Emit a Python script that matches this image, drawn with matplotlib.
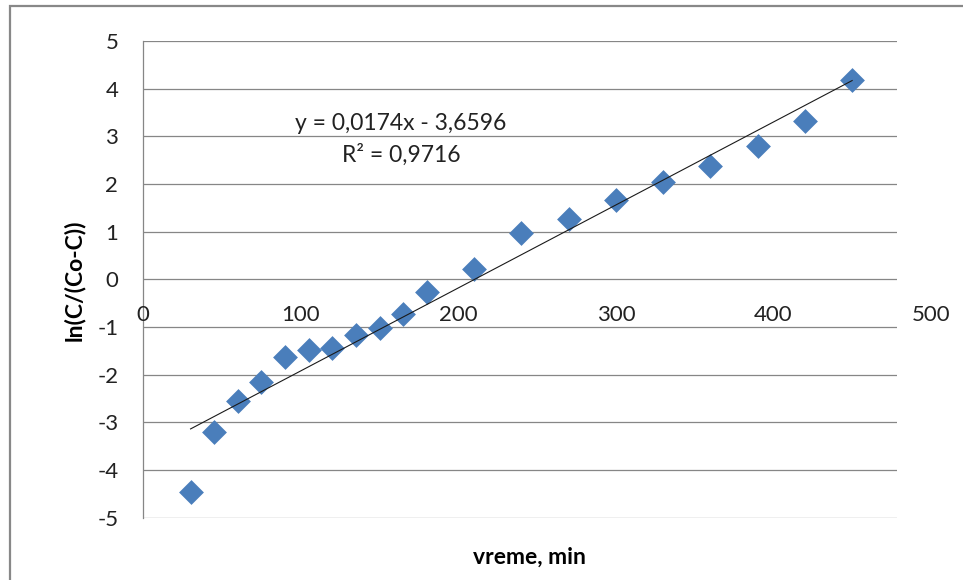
#! /usr/bin/env python3

import numpy as np
import matplotlib.pyplot as plt
from matplotlib.patches import Rectangle


# Time (min) and ln(C/(Co-C)) values.
vreme = [30, 45, 60, 75, 90, 105, 120, 135, 150, 165, 180,
         210, 240, 270, 300, 330, 360, 390, 420, 450]
ln_c = [-4.46, -3.20, -2.55, -2.15, -1.62, -1.48, -1.43, -1.17, -1.01, -0.73,
        -0.26, 0.22, 0.98, 1.26, 1.66, 2.05, 2.38, 2.80, 3.32, 4.18]

# Linear trendline shown on the chart.
slope = 0.0174
intercept = -3.6596
r2 = 0.9716

x_ticks = [0, 100, 200, 300, 400, 500]
y_ticks = [-5, -4, -3, -2, -1, 0, 1, 2, 3, 4, 5]

plt.rcParams['font.family'] = ['Lato', 'DejaVu Sans']
plt.rcParams['axes.unicode_minus'] = False

fig = plt.figure(figsize=(9.63, 5.8), dpi=100)
ax = fig.add_axes([0.1488, 0.1074, 0.7827, 0.8219])

# Outer chart frame.
fig.patches.append(Rectangle((10 / 963, -0.2), 1.2, 1.2 - 6 / 580,
                             transform=fig.transFigure, fill=False,
                             edgecolor='#888888', linewidth=1.6))

# Data points and trendline.
ax.scatter(vreme, ln_c, marker='D', s=160, color='#4A7EBB', zorder=3,
           linewidths=0)
xt = np.array([vreme[0], vreme[-1]])
ax.plot(xt, slope * xt + intercept, color='#1a1a1a', linewidth=0.8, zorder=4)

ax.set_xlim(0, 478.5)
ax.set_ylim(-5, 5)

# Horizontal gridlines, y axis at x=0.
ax.set_yticks(y_ticks)
ax.yaxis.grid(True, color='#868686', linewidth=0.9)
ax.set_axisbelow(True)
for s in ['top', 'right', 'bottom']:
    ax.spines[s].set_visible(False)
ax.spines['left'].set_color('#868686')
ax.spines['left'].set_linewidth(0.9)
ax.tick_params(axis='y', length=0, pad=18, labelsize=16, labelcolor='#222222')
ax.set_xticks([])

# x tick labels drawn under the y=0 axis line, like the spreadsheet chart.
for v in x_ticks:
    ax.text(v, -0.75, str(v), ha='center', va='center', fontsize=16,
            color='#222222', clip_on=False)

# Trendline equation.
ax.text(163.5, 3.26, "y = 0,0174x - 3,6596", ha='center', va='center',
        fontsize=16.5, color='#222222')
ax.text(163.5, 2.62, "R² = 0,9716", ha='center', va='center',
        fontsize=16.5, color='#222222')

fig.text(529 / 963, 1 - 557 / 580, "vreme, min", ha='center', va='center',
         fontsize=16.5, fontweight='bold')
fig.text(74 / 963, 1 - 280 / 580, "ln(C/(Co-C))", ha='center', va='center',
         fontsize=16.5, fontweight='bold', rotation=90)

fig.savefig("out.png", dpi=100)
